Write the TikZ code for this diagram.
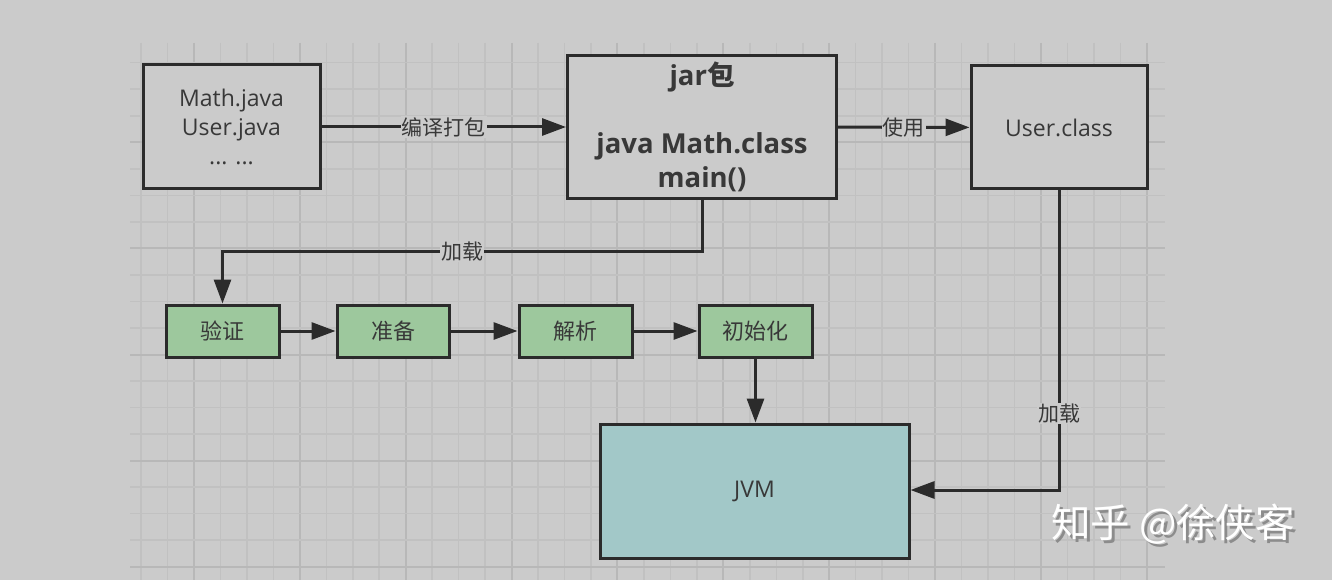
\documentclass[tikz,border=0pt]{standalone}
\usepackage{fontspec}
\setmainfont{Open Sans}
\newfontfamily\cjk{Noto Sans CJK SC}
\usetikzlibrary{arrows.meta,calc}
\definecolor{bgc}{HTML}{CBCBCB}
\definecolor{gridminor}{HTML}{C1C1C1}
\definecolor{gridmajor}{HTML}{B8B8B8}
\definecolor{edgec}{HTML}{2B2B2B}
\definecolor{txtc}{HTML}{383838}
\definecolor{greenc}{HTML}{9DC89D}
\definecolor{tealc}{HTML}{A2C8C8}
\tikzset{
  box/.style={draw=edgec, line width=3pt, fill=bgc, text=txtc, align=center, inner sep=0pt},
  stage/.style={box, fill=greenc, minimum width=113pt, minimum height=52pt, font=\cjk\fontsize{22}{26}\selectfont},
  arr/.style={draw=edgec, line width=3pt, -{Triangle[length=24pt,width=17pt]}},
  elabel/.style={fill=bgc, inner sep=1pt, text=txtc, font=\cjk\fontsize{21}{24}\selectfont},
}
\begin{document}
\begin{tikzpicture}[x=1pt,y=-1pt]
\useasboundingbox (0,0) rectangle (1332,580);
\fill[bgc] (0,0) rectangle (1332,580);
% grid
\foreach \k in {0,...,38}{
  \pgfmathtruncatemacro{\m}{mod(\k+2,4)}
  \ifnum\m=0
    \draw[gridmajor, line width=2pt] ({141+26.47*\k},43) -- ({141+26.47*\k},580);
  \else
    \draw[gridminor, line width=1.5pt] ({141+26.47*\k},43) -- ({141+26.47*\k},580);
  \fi
}
\foreach \k in {0,...,19}{
  \pgfmathtruncatemacro{\m}{mod(\k,4)}
  \ifnum\m=3
    \draw[gridmajor, line width=2pt] (130,{62.7+26.53*\k}) -- (1165,{62.7+26.53*\k});
  \else
    \draw[gridminor, line width=1.5pt] (130,{62.7+26.53*\k}) -- (1165,{62.7+26.53*\k});
  \fi
}
% nodes
\node[box, minimum width=177pt, minimum height=124pt, font=\fontsize{23}{29}\selectfont] (src) at (231.5,127) {Math.java\\User.java\\... ...};
\node[box, minimum width=269pt, minimum height=142pt, font=\bfseries\fontsize{27.5}{34}\selectfont] (jar) at (702,127) {jar{\cjk 包}\\[34pt]java Math.class\\main()};
\node[box, minimum width=176pt, minimum height=123pt, font=\fontsize{23}{29}\selectfont] (user) at (1059,127.5) {User.class};
\node[stage] (s1) at (222.5,331) {验证};
\node[stage, minimum width=112pt] (s2) at (393,331) {准备};
\node[stage] (s3) at (575.5,331) {解析};
\node[stage] (s4) at (755.5,331) {初始化};
\node[box, fill=tealc, minimum width=309pt, minimum height=134pt, font=\fontsize{23}{29}\selectfont] (jvm) at (754.5,491) {JVM};
\coordinate (ly) at (0,251.7);
\coordinate (ry) at (0,490);
% edges
\draw[arr] (src) -- node[elabel] {编译打包} (jar);
\draw[arr] (jar) -- node[elabel] {使用} (user);
\draw[arr] (jar.south) -- (jar.south |- ly) -| node[elabel, pos=0.25] {加载} (s1.north);
\draw[arr] (s1) -- (s2);
\draw[arr] (s2) -- (s3);
\draw[arr] (s3) -- (s4);
\draw[arr] (s4.south) -- (s4.south |- jvm.north);
\draw[arr] (user.south) |- node[elabel, pos=0.372] {加载} (jvm.east |- ry);
% watermark
\node[anchor=west, inner sep=0pt, text=black!45, font=\cjk\fontsize{39.5}{42}\selectfont] (wmshadow) at (1054,527) {知乎 @徐侠客};
\node[anchor=west, inner sep=0pt, text=white, font=\cjk\fontsize{39.5}{42}\selectfont] (wm) at (1051,524) {知乎 @徐侠客};
\end{tikzpicture}
\end{document}
